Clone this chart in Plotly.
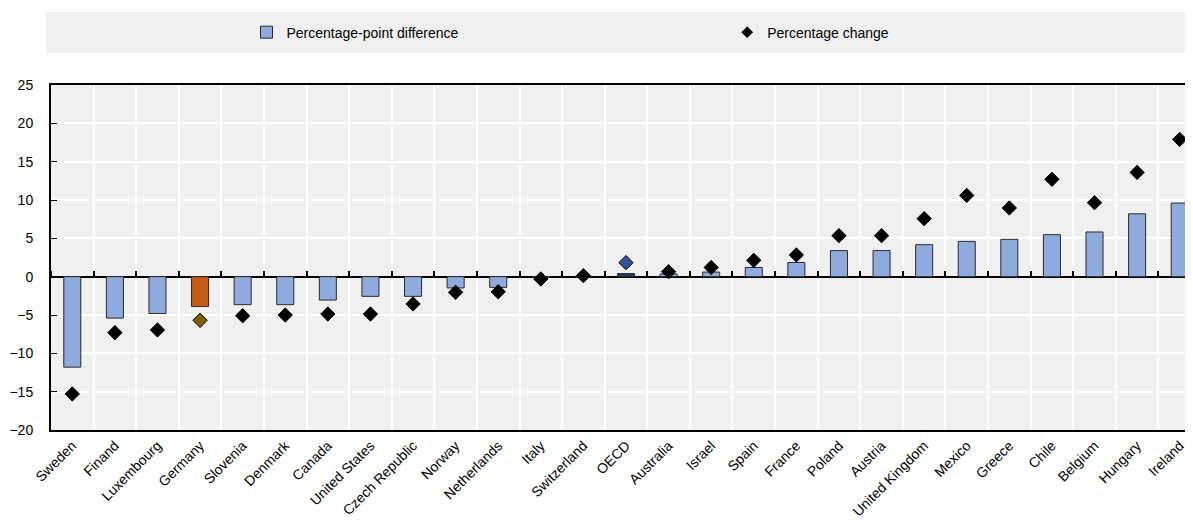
import plotly.graph_objects as go

countries = ["Sweden", "Finand", "Luxembourg", "Germany", "Slovenia", "Denmark", "Canada",
             "United States", "Czech Republic", "Norway", "Netherlands", "Italy", "Switzerland",
             "OECD", "Australia", "Israel", "Spain", "France", "Poland", "Austria",
             "United Kingdom", "Mexico", "Greece", "Chile", "Belgium", "Hungary", "Ireland"]
pp_difference = [-11.8, -5.4, -4.8, -3.9, -3.65, -3.65, -3.05, -2.57, -2.57, -1.47, -1.4,
                 -0.1, 0.05, 0.4, 0.35, 0.6, 1.2, 1.85, 3.4, 3.4, 4.17, 4.6, 4.87, 5.48,
                 5.83, 8.2, 9.6]
pct_change = [-15.3, -7.3, -6.95, -5.7, -5.1, -5.0, -4.87, -4.87, -3.56, -2.04, -1.97,
              -0.3, 0.13, 1.83, 0.65, 1.2, 2.13, 2.83, 5.35, 5.35, 7.57, 10.6, 8.96, 12.7,
              9.65, 13.6, 17.9]
y_ticks = [-20, -15, -10, -5, 0, 5, 10, 15, 20, 25]

idx = list(range(len(countries)))
bar_colors = ["#C55A11" if c == "Germany" else ("#1F3864" if c == "OECD" else "#8FAADC") for c in countries]
dia_colors = ["#7F6000" if c == "Germany" else ("#2F5597" if c == "OECD" else "#000000") for c in countries]
boundaries = [i + 0.5 for i in range(-1, len(countries))]

FONT = "Liberation Sans, Arial, sans-serif"

fig = go.Figure()
fig.add_trace(go.Bar(
    x=idx, y=pp_difference, name="Percentage-point difference", width=0.4,
    marker=dict(color=bar_colors, line=dict(color="#2b2b2b", width=1)),
    showlegend=False,
))
fig.add_trace(go.Bar(
    x=[None], y=[None], name="Percentage-point difference", legend="legend",
    marker=dict(color="#8FAADC", line=dict(color="#2b2b2b", width=1)),
))
fig.add_trace(go.Scatter(
    x=idx, y=pct_change, mode="markers", name="Percentage change",
    marker=dict(symbol="diamond", size=11, color=dia_colors, line=dict(color="#000000", width=1)),
    showlegend=False,
))
fig.add_trace(go.Scatter(
    x=[None], y=[None], mode="markers", name="Percentage change", legend="legend2",
    marker=dict(symbol="diamond", size=9, color="#000000"),
))
fig.add_trace(go.Scatter(x=[0], y=[0], xaxis="x2", mode="markers",
                         marker=dict(opacity=0), showlegend=False, hoverinfo="skip"))

leg_common = dict(orientation="h", xanchor="left", y=1.152, yanchor="middle",
                  bgcolor="rgba(0,0,0,0)", font=dict(family=FONT, size=14, color="#000000"))

fig.update_layout(
    width=1193, height=528,
    margin=dict(l=43, r=0, t=77, b=106, autoexpand=False),
    paper_bgcolor="white", plot_bgcolor="#F0F0F0",
    font=dict(family=FONT, size=14, color="#000000"),
    legend=dict(x=0.170, **leg_common),
    legend2=dict(x=0.588, itemwidth=30, **leg_common),
    xaxis=dict(
        range=[-0.5, 26.5], tickmode="array", tickvals=idx, ticktext=countries,
        tickangle=-45, showgrid=False, zeroline=False, automargin=False,
        showline=True, linecolor="#000000", linewidth=2, mirror=True,
        ticks="", tickfont=dict(family=FONT, size=14, color="#000000"),
        minor=dict(tickmode="array", tickvals=boundaries, showgrid=True,
                   gridcolor="#FFFFFF", gridwidth=1.5, ticks=""),
    ),
    xaxis2=dict(
        overlaying="x", anchor="free", position=20 / 45, range=[-0.5, 26.5],
        tickmode="array", tickvals=boundaries, ticks="outside", ticklen=6,
        tickwidth=1.5, tickcolor="#000000", showticklabels=False, showgrid=False,
        showline=False, zeroline=False, side="top", automargin=False,
    ),
    yaxis=dict(
        range=[-20, 25], tickmode="array", tickvals=y_ticks, automargin=False,
        showgrid=True, gridcolor="#FFFFFF", gridwidth=1.5,
        zeroline=True, zerolinecolor="#000000", zerolinewidth=1.5,
        showline=True, linecolor="#000000", linewidth=2,
        ticks="inside", ticklen=6, tickcolor="#000000", tickwidth=1,
        ticklabelstandoff=13,
        tickfont=dict(family=FONT, size=14, color="#000000"),
    ),
    shapes=[dict(type="rect", xref="paper", yref="paper", x0=-0.0043, x1=1.0,
                 y0=1.0928, y1=1.2116, fillcolor="#F0F0F0", line=dict(width=0), layer="below")],
)

fig.write_html("out.html")
